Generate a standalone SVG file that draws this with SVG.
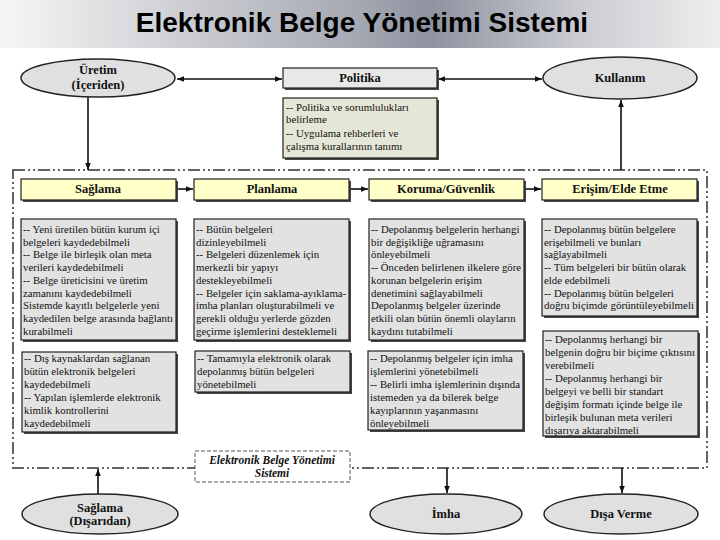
<svg xmlns="http://www.w3.org/2000/svg" width="720" height="540" viewBox="0 0 720 540">
<defs>
<linearGradient id="band" x1="0" y1="0" x2="1" y2="0">
<stop offset="0" stop-color="#f6f6f6"/>
<stop offset="0.2" stop-color="#d6d7da"/>
<stop offset="0.5" stop-color="#a4a8b2"/>
<stop offset="0.6" stop-color="#8e93a0"/>
<stop offset="0.8" stop-color="#c9cbd0"/>
<stop offset="1" stop-color="#eeeeee"/>
</linearGradient>
<marker id="ah" viewBox="0 0 10 10" refX="10" refY="5" markerWidth="7" markerHeight="7" orient="auto-start-reverse" markerUnits="userSpaceOnUse">
<path d="M0,1 L10,5 L0,9 Z" fill="#111"/>
</marker>
<style>
.title{font-family:"Liberation Sans",Arial,sans-serif;font-weight:bold;font-size:28px;fill:#000}
.ell{fill:#e0e0e0;stroke:#222;stroke-width:1.5}
.lbl{font-family:"Liberation Serif","Times New Roman",serif;font-weight:bold;font-size:12.5px;fill:#111;text-anchor:middle}
.proc{fill:#ffffc8;stroke:#222;stroke-width:1.2}
.pol{fill:#e8e8e8;stroke:#222;stroke-width:1.2}
.note{fill:#e6e6d6;stroke:#222;stroke-width:1.2}
.desc{fill:#e2e2e2;stroke:#222;stroke-width:1.2}
.shadow{fill:#444}
.txt{font-family:"Liberation Serif","Times New Roman",serif;font-size:10.8px;fill:#111}
.conn{stroke:#111;stroke-width:1.6;fill:none}
.bound{stroke:#333;stroke-width:1.5;fill:none;stroke-dasharray:12 3 2 3 2 3}
.sys{font-family:"Liberation Serif","Times New Roman",serif;font-weight:bold;font-style:italic;font-size:11.5px;fill:#111;text-anchor:middle}
</style>
</defs>
<rect width="720" height="540" fill="#ffffff"/>
<rect x="0" y="0" width="720" height="48" fill="url(#band)"/>
<text class="title" x="362" y="32" text-anchor="middle">Elektronik Belge Yönetimi Sistemi</text>

<!-- boundary -->
<rect class="bound" x="13" y="170" width="694" height="298"/>

<g id="connectors">
<line class="conn" x1="177" y1="79" x2="282" y2="79" marker-start="url(#ah)" marker-end="url(#ah)"/>
<line class="conn" x1="438" y1="79" x2="542" y2="79" marker-start="url(#ah)" marker-end="url(#ah)"/>
<line class="conn" x1="88" y1="97" x2="88" y2="170" marker-end="url(#ah)"/>
<line class="conn" x1="621" y1="170" x2="621" y2="100" marker-end="url(#ah)"/>
<line class="conn" x1="177" y1="189" x2="193" y2="189" marker-end="url(#ah)"/>
<line class="conn" x1="351" y1="189" x2="368" y2="189" marker-end="url(#ah)"/>
<line class="conn" x1="525" y1="189" x2="541" y2="189" marker-end="url(#ah)"/>
<line class="conn" x1="98" y1="494" x2="98" y2="469" marker-end="url(#ah)"/>
<line class="conn" x1="447" y1="468" x2="447" y2="493" marker-end="url(#ah)"/>
<line class="conn" x1="622" y1="468" x2="622" y2="493" marker-end="url(#ah)"/>
</g>

<g id="sistem">
<rect x="195" y="451" width="155" height="31" fill="#ffffff" stroke="#555" stroke-width="1" stroke-dasharray="4 2"/>
<text class="sys" x="272" y="464">Elektronik Belge Yönetimi</text>
<text class="sys" x="272" y="477">Sistemi</text>
</g>

<g id="uretim">
<ellipse class="ell" cx="98" cy="78" rx="77" ry="19"/>
<text class="lbl" x="98" y="74">Üretim</text>
<text class="lbl" x="98" y="89">(İçeriden)</text>
</g>

<g id="politika">
<rect class="shadow" x="285" y="70" width="154" height="20"/>
<rect class="pol" x="283" y="68" width="154" height="20"/>
<text class="lbl" x="360" y="82">Politika</text>
</g>

<g id="politika-not">
<rect class="shadow" x="285" y="100" width="154" height="60"/>
<rect class="note" x="283" y="98" width="154" height="60"/>
<text class="txt" x="286" y="111">-- Politika ve sorumlulukları</text>
<text class="txt" x="286" y="123">belirleme</text>
<text class="txt" x="286" y="137">-- Uygulama rehberleri ve</text>
<text class="txt" x="286" y="150">çalışma kurallarının tanımı</text>
</g>

<g id="kullanim">
<ellipse class="ell" cx="620" cy="78" rx="77" ry="21"/>
<text class="lbl" x="620" y="82">Kullanım</text>
</g>

<g id="saglama">
<rect class="shadow" x="23" y="181" width="155" height="21"/>
<rect class="proc" x="21" y="179" width="155" height="21"/>
<text class="lbl" x="98" y="193">Sağlama</text>
</g>
<g id="planlama">
<rect class="shadow" x="196" y="181" width="155" height="21"/>
<rect class="proc" x="194" y="179" width="155" height="21"/>
<text class="lbl" x="272" y="193">Planlama</text>
</g>
<g id="koruma">
<rect class="shadow" x="371" y="181" width="155" height="21"/>
<rect class="proc" x="369" y="179" width="155" height="21"/>
<text class="lbl" x="446" y="193">Koruma/Güvenlik</text>
</g>
<g id="erisim">
<rect class="shadow" x="544" y="181" width="155" height="21"/>
<rect class="proc" x="542" y="179" width="155" height="21"/>
<text class="lbl" x="620" y="193">Erişim/Elde Etme</text>
</g>

<g id="saglama-1">
<rect class="shadow" x="23" y="221" width="155" height="121"/>
<rect class="desc" x="21" y="219" width="155" height="121"/>
<text class="txt" x="23" y="233">-- Yeni üretilen bütün kurum içi</text>
<text class="txt" x="23" y="245.7">belgeleri kaydedebilmeli</text>
<text class="txt" x="23" y="258.4">-- Belge ile birleşik olan meta</text>
<text class="txt" x="23" y="271.1">verileri kaydedebilmeli</text>
<text class="txt" x="23" y="283.8">-- Belge üreticisini ve üretim</text>
<text class="txt" x="23" y="296.5">zamanını kaydedebilmeli</text>
<text class="txt" x="23" y="309.2">   Sistemde kayıtlı belgelerle yeni</text>
<text class="txt" x="23" y="321.9" textLength="150" lengthAdjust="spacingAndGlyphs">kaydedilen belge arasında bağlantı</text>
<text class="txt" x="23" y="334.6">kurabilmeli</text>
</g>

<g id="planlama-1">
<rect class="shadow" x="196" y="221" width="155" height="121"/>
<rect class="desc" x="194" y="219" width="155" height="121"/>
<text class="txt" x="196" y="233">-- Bütün belgeleri</text>
<text class="txt" x="196" y="245.7">dizinleyebilmeli</text>
<text class="txt" x="196" y="258.4">-- Belgeleri düzenlemek için</text>
<text class="txt" x="196" y="271.1">merkezli bir yapıyı</text>
<text class="txt" x="196" y="283.8">destekleyebilmeli</text>
<text class="txt" x="196" y="296.5">-- Belgeler için saklama-ayıklama-</text>
<text class="txt" x="196" y="309.2">imha planları oluşturabilmeli ve</text>
<text class="txt" x="196" y="321.9">gerekli olduğu yerlerde gözden</text>
<text class="txt" x="196" y="334.6">geçirme işlemlerini desteklemeli</text>
</g>

<g id="koruma-1">
<rect class="shadow" x="371" y="221" width="155" height="121"/>
<rect class="desc" x="369" y="219" width="155" height="121"/>
<text class="txt" x="371" y="233">-- Depolanmış belgelerin herhangi</text>
<text class="txt" x="371" y="245.7">bir değişikliğe uğramasını</text>
<text class="txt" x="371" y="258.4">önleyebilmeli</text>
<text class="txt" x="371" y="271.1" textLength="150" lengthAdjust="spacingAndGlyphs">-- Önceden belirlenen ilkelere göre</text>
<text class="txt" x="371" y="283.8">korunan belgelerin erişim</text>
<text class="txt" x="371" y="296.5">denetimini sağlayabilmeli</text>
<text class="txt" x="371" y="309.2">   Depolanmış belgeler üzerinde</text>
<text class="txt" x="371" y="321.9">etkili olan bütün önemli olayların</text>
<text class="txt" x="371" y="334.6">kaydını tutabilmeli</text>
</g>

<g id="erisim-1">
<rect class="shadow" x="544" y="221" width="155" height="97"/>
<rect class="desc" x="542" y="219" width="155" height="97"/>
<text class="txt" x="544" y="233">-- Depolanmış bütün belgelere</text>
<text class="txt" x="544" y="245.7">erişebilmeli ve bunları</text>
<text class="txt" x="544" y="258.4">sağlayabilmeli</text>
<text class="txt" x="544" y="271.1">-- Tüm belgeleri bir bütün olarak</text>
<text class="txt" x="544" y="283.8">elde edebilmeli</text>
<text class="txt" x="544" y="296.5">-- Depolanmış bütün belgeleri</text>
<text class="txt" x="544" y="309.2" textLength="150" lengthAdjust="spacingAndGlyphs">doğru biçimde görüntüleyebilmeli</text>
</g>

<g id="saglama-2">
<rect class="shadow" x="24" y="354" width="154" height="80"/>
<rect class="desc" x="22" y="352" width="154" height="80"/>
<text class="txt" x="24" y="362">-- Dış kaynaklardan sağlanan</text>
<text class="txt" x="24" y="375">bütün elektronik belgeleri</text>
<text class="txt" x="24" y="388">kaydedebilmeli</text>
<text class="txt" x="24" y="401">-- Yapılan işlemlerde elektronik</text>
<text class="txt" x="24" y="414">kimlik kontrollerini</text>
<text class="txt" x="24" y="427">kaydedebilmeli</text>
</g>

<g id="planlama-2">
<rect class="shadow" x="197" y="353" width="155" height="41"/>
<rect class="desc" x="195" y="351" width="155" height="41"/>
<text class="txt" x="197" y="362">-- Tamamıyla elektronik olarak</text>
<text class="txt" x="197" y="375">depolanmış bütün belgeleri</text>
<text class="txt" x="197" y="388">yönetebilmeli</text>
</g>

<g id="imha-1">
<rect class="shadow" x="370" y="353" width="155" height="79"/>
<rect class="desc" x="368" y="351" width="155" height="79"/>
<text class="txt" x="370" y="362">-- Depolanmış belgeler için imha</text>
<text class="txt" x="370" y="375">işlemlerini yönetebilmeli</text>
<text class="txt" x="370" y="388">-- Belirli imha işlemlerinin dışında</text>
<text class="txt" x="370" y="401">istemeden ya da bilerek belge</text>
<text class="txt" x="370" y="414">kayıplarının yaşanmasını</text>
<text class="txt" x="370" y="427">önleyebilmeli</text>
</g>

<g id="disa-verme-1">
<rect class="shadow" x="545" y="333" width="155" height="105"/>
<rect class="desc" x="543" y="331" width="155" height="105"/>
<text class="txt" x="545" y="343">-- Depolanmış herhangi bir</text>
<text class="txt" x="545" y="356" textLength="150" lengthAdjust="spacingAndGlyphs">belgenin doğru bir biçime çıktısını</text>
<text class="txt" x="545" y="369">verebilmeli</text>
<text class="txt" x="545" y="382">-- Depolanmış herhangi bir</text>
<text class="txt" x="545" y="395">belgeyi ve belli bir standart</text>
<text class="txt" x="545" y="408">değişim formatı içinde belge ile</text>
<text class="txt" x="545" y="421">birleşik bulunan meta verileri</text>
<text class="txt" x="545" y="434">dışarıya aktarabilmeli</text>
</g>

<g id="saglama-disaridan">
<ellipse class="ell" cx="100" cy="514" rx="78" ry="20"/>
<text class="lbl" x="100" y="512">Sağlama</text>
<text class="lbl" x="100" y="525">(Dışarıdan)</text>
</g>
<g id="imha">
<ellipse class="ell" cx="446" cy="514" rx="76" ry="20"/>
<text class="lbl" x="446" y="518">İmha</text>
</g>
<g id="disa-verme">
<ellipse class="ell" cx="621" cy="514" rx="77" ry="20"/>
<text class="lbl" x="621" y="518">Dışa Verme</text>
</g>
</svg>
